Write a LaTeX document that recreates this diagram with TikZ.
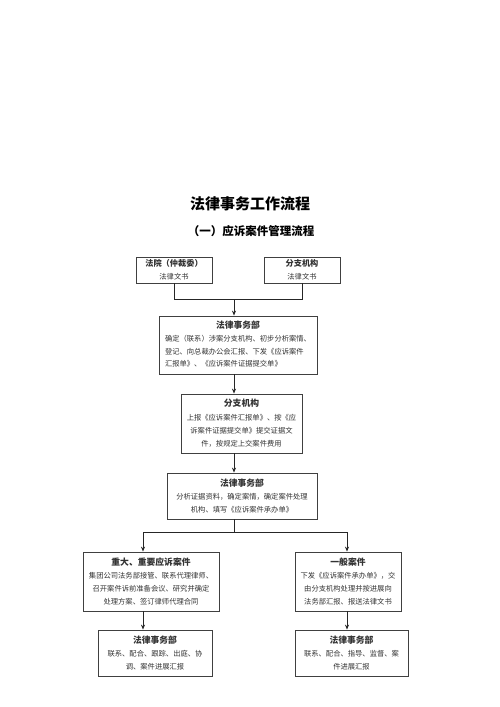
\documentclass[tikz,border=0pt]{standalone}
\usepackage{fontspec}
\setmainfont{Noto Sans CJK SC}
\usetikzlibrary{arrows.meta}
\newcommand{\bt}[1]{{\fontsize{8.8}{13.3}\selectfont\bfseries #1}}
\tikzset{
  x=1pt, y=-1pt,
  box/.style={draw=black!75, line width=0.8pt, inner sep=0pt, align=center,
    font=\fontsize{7.3}{13.3}\selectfont, text=black!80},
  topbox/.style={box, font=\fontsize{7.3}{12.7}\selectfont},
  conn/.style={draw=black!85, line width=0.8pt},
  arr/.style={conn, -{Stealth[length=5pt,width=4pt]}},
  ttl/.style={inner sep=0pt, font=\fontsize{15}{15}\selectfont\bfseries},
  subttl/.style={inner sep=0pt, font=\fontsize{11.5}{11.5}\selectfont\bfseries}
}
\begin{document}
\begin{tikzpicture}
\useasboundingbox (0,0) rectangle (500,707);
\fill[white] (0,0) rectangle (500,707);

\node[ttl] (title) at (250,204) {法律事务工作流程};
\node[subttl] (subtitle) at (251,231) {（一）应诉案件管理流程};

\node[topbox, minimum width=76pt, minimum height=26pt] (b1) at (174,270)
  {{\fontsize{8.2}{12.7}\selectfont\bfseries 法院（仲裁委）}\\法律文书};
\node[topbox, minimum width=76pt, minimum height=26pt] (b2) at (302,270)
  {{\fontsize{8.2}{12.7}\selectfont\bfseries 分支机构}\\法律文书};

\node[box, minimum width=158pt, minimum height=58pt] (b3) at (238,345)
  {\begin{tabular}{@{}l@{}}\multicolumn{1}{@{}c@{}}{\bt{法律事务部}}\\[-0.5pt]
   确定（联系）涉案分支机构、初步分析案情、\\[-0.5pt]
   登记、向总裁办公会汇报、下发《应诉案件\\[-0.5pt]
   汇报单》、《应诉案件证据提交单》\end{tabular}};

\node[box, minimum width=121pt, minimum height=59pt] (b4) at (241.5,423.5)
  {\bt{分支机构}\\上报《应诉案件汇报单》、按《应\\诉案件证据提交单》提交证据文\\件，按规定上交案件费用};

\node[box, minimum width=150pt, minimum height=46pt] (b5) at (242,496)
  {\bt{法律事务部}\\分析证据资料，确定案情，确定案件处理\\机构、填写《应诉案件承办单》};

\node[box, minimum width=136pt, minimum height=59pt] (b6) at (151,581.5)
  {\bt{重大、重要应诉案件}\\集团公司法务部接管、联系代理律师、\\召开案件诉前准备会议、研究并确定\\处理方案、签订律师代理合同};

\node[box, minimum width=106pt, minimum height=59pt] (b7) at (348,581.5)
  {\bt{一般案件}\\下发《应诉案件承办单》，交\\由分支机构处理并按进展向\\法务部汇报、报送法律文书};

\node[box, minimum width=114pt, minimum height=46pt] (b8) at (155,653)
  {\bt{法律事务部}\\联系、配合、跟踪、出庭、协\\调、案件进展汇报};

\node[box, minimum width=113pt, minimum height=46pt] (b9) at (351.5,653)
  {\bt{法律事务部}\\联系、配合、指导、监督、案\\件进展汇报};

% connectors
\coordinate (m1) at (234,299);
\coordinate (l1) at (174,299);
\coordinate (r1) at (302,299);
\draw[conn] (b1.south) -- (l1) -- (r1) -- (b2.south);
\draw[arr] (m1) -- (m1 |- b3.north);

\coordinate (a34) at (234,374);
\draw[arr] (a34) -- (a34 |- b4.north);
\coordinate (a45) at (234,453);
\draw[arr] (a45) -- (a45 |- b5.north);

\coordinate (s0) at (234,519);
\coordinate (s1) at (234,532);
\coordinate (sl) at (143,532);
\coordinate (sr) at (347,532);
\draw[conn] (s0) -- (s1);
\draw[conn] (sl) -- (sr);
\draw[arr] (sl) -- (sl |- b6.north);
\draw[arr] (sr) -- (sr |- b7.north);

\coordinate (a68) at (143,611);
\draw[arr] (a68) -- (a68 |- b8.north);
\coordinate (a79) at (347,611);
\draw[arr] (a79) -- (a79 |- b9.north);
\end{tikzpicture}
\end{document}
